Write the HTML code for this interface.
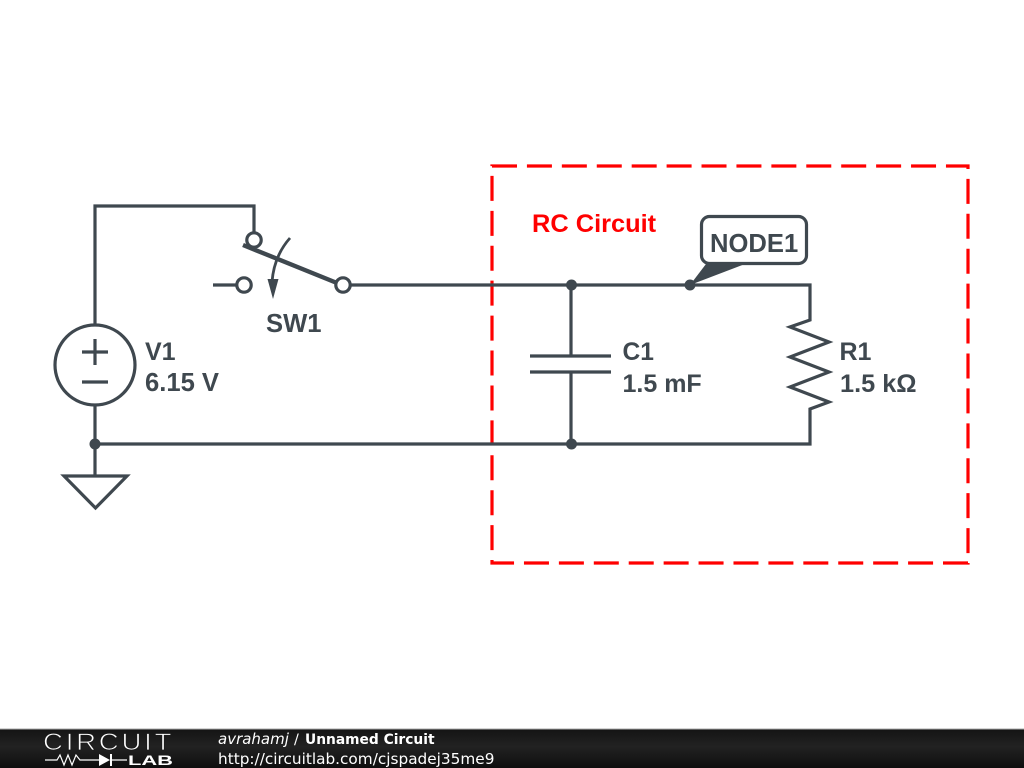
<!DOCTYPE html>
<html><head><meta charset="utf-8"><style>html,body{margin:0;padding:0;background:#fff}svg{display:block}</style></head>
<body>
<svg xmlns="http://www.w3.org/2000/svg" width="1024" height="768" viewBox="0 0 1024 768">
<defs><linearGradient id="g" x1="0" y1="0" x2="0" y2="1"><stop offset="0" stop-color="#141414"/><stop offset="0.45" stop-color="#222"/><stop offset="1" stop-color="#0e0e0e"/></linearGradient></defs>
<rect width="1024" height="768" fill="#fff"/>
<rect x="492" y="166" width="476" height="397" fill="none" stroke="#f00" stroke-width="3.2" stroke-dasharray="25 9.92"/>
<g fill="none" stroke="#3f484f" stroke-width="3.2">
<path d="M95 325V206H254V233"/>
<path d="M95 405V476"/>
<circle cx="95" cy="365" r="40"/>
<path d="M82 352H108M95 339V365M82 382H108"/>
<path d="M64 476H127L95.500 508Z" stroke-linejoin="miter"/>
<path d="M95 444H810V409L829 402L790 387L829 372L790 357L829 342L790 327L810 320V285H351"/>
<path d="M213 285H237"/>
<path d="M243 245L337 283" stroke-width="4.400"/>
<path d="M290 238Q274 256 272 282" stroke-width="2.800"/>
<circle cx="254" cy="240" r="7.200"/>
<circle cx="244" cy="285" r="7.200"/>
<circle cx="343" cy="285" r="7.200" fill="#fff"/>
<path d="M571 285V356M571 372V444M530 356H611M530 372H611"/>
<rect x="701.500" y="216.500" width="105" height="47" rx="8" fill="#fff"/>
</g>
<path d="M267.500 279H278.500L273 299Z" fill="#3f484f"/>
<path d="M690 285L706 264H745Z" fill="#3f484f"/>
<g fill="#3f484f"><circle cx="95" cy="444" r="5.500"/><circle cx="571.500" cy="285" r="5.500"/><circle cx="571.500" cy="444" r="5.500"/><circle cx="690" cy="285" r="5.500"/></g>
<g font-family="'Liberation Sans',sans-serif" font-weight="700" font-size="25.600" fill="#3f484f">
<text x="145" y="360" font-size="25">V1</text><text x="145" y="391">6.15 V</text>
<text x="266" y="332">SW1</text>
<text x="622.500" y="360" font-size="24.600">C1</text><text x="622.500" y="392" font-size="25">1.5 mF</text>
<text x="839.500" y="360" font-size="25">R1</text><text x="840" y="392" font-size="25.300">1.5 kΩ</text>
<text x="710" y="252">NODE1</text>
<text x="532" y="232" fill="#f00" font-size="25.400">RC Circuit</text>
</g>
<rect x="0" y="729" width="1024" height="39" fill="url(#g)"/>
<rect x="0" y="728.500" width="1024" height="1" fill="#aaa"/>
<text transform="translate(43 750) scale(1.15 1)" font-family="'Liberation Sans',sans-serif" font-size="24" letter-spacing="2.400" fill="#fff" stroke="#1c1c1c" stroke-width="0.8">CIRCUIT</text>
<path d="M45 760H57L60 755L64 765L68 755L72 765L76 755L80 760H99M110 760H127" fill="none" stroke="#fff" stroke-width="1.200"/>
<path d="M99 754V766L110 760Z M110 754H112V766H110Z" fill="#fff"/>
<text x="128" y="765" font-family="'Liberation Sans',sans-serif" font-weight="700" font-size="14" fill="#fff" textLength="45" lengthAdjust="spacingAndGlyphs">LAB</text>
<g font-family="'DejaVu Sans',sans-serif" fill="#fff">
<text x="218" y="744" font-size="15" font-style="italic">avrahamj</text>
<text x="294" y="744" font-size="14.300">/</text>
<text x="305" y="744" font-size="13.800" font-weight="700">Unnamed Circuit</text>
<text x="218" y="764" font-size="15.300">http://circuitlab.com/cjspadej35me9</text>
</g>
</svg>
</body></html>
